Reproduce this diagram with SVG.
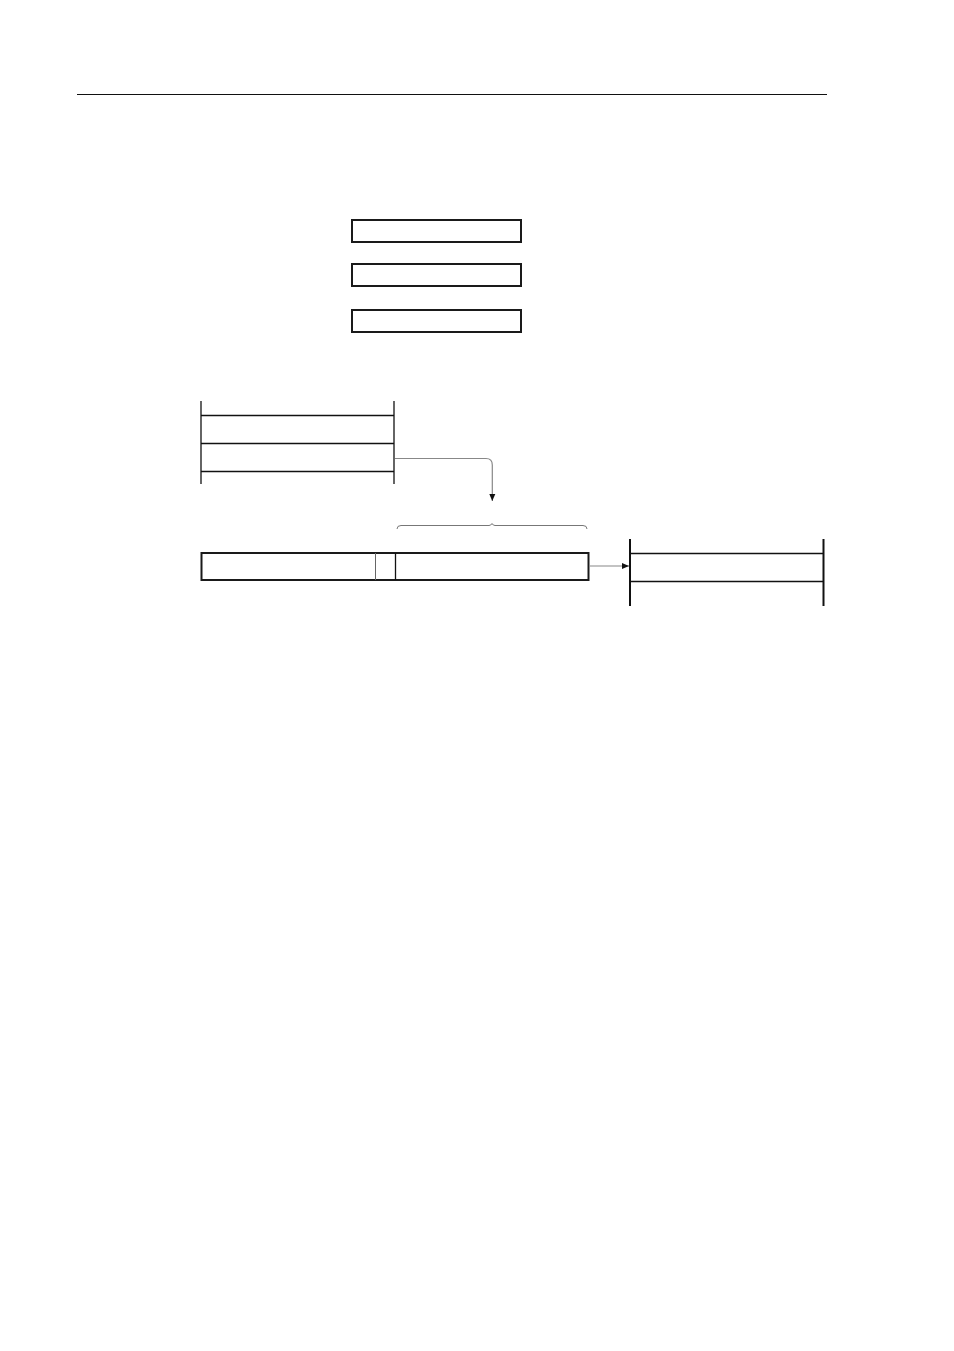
<svg xmlns="http://www.w3.org/2000/svg" width="954" height="1351" viewBox="0 0 954 1351">
<style>
.box{fill:none;stroke:#1a1a1a;stroke-width:2}
.thin{fill:none;stroke:#111;stroke-width:1.3}
.thick{fill:none;stroke:#111;stroke-width:2}
.conn{fill:none;stroke:#888;stroke-width:1.2}
</style>
<defs>
<marker id="arr" markerWidth="8" markerHeight="8" refX="7" refY="4" orient="auto" markerUnits="userSpaceOnUse">
<path d="M0,1 L7,4 L0,7 Z" fill="#111"/>
</marker>
</defs>
<rect width="954" height="1351" fill="#fff"/>
<line x1="77" y1="94.5" x2="827" y2="94.5" stroke="#111" stroke-width="1.2"/>
<g id="reg1"><rect class="box" x="352" y="220" width="169" height="22"/></g>
<g id="reg2"><rect class="box" x="352" y="264" width="169" height="22"/></g>
<g id="reg3"><rect class="box" x="352" y="310" width="169" height="22"/></g>
<g id="memory">
<line class="thin" x1="201" y1="401" x2="201" y2="484"/>
<line class="thin" x1="394" y1="401" x2="394" y2="484"/>
<line class="thin" x1="201" y1="415.5" x2="394" y2="415.5"/>
<line class="thin" x1="201" y1="443.5" x2="394" y2="443.5"/>
<line class="thin" x1="201" y1="471.5" x2="394" y2="471.5"/>
</g>
<g id="bar">
<rect class="box" x="201.5" y="553" width="387" height="27"/>
<line x1="375.5" y1="553" x2="375.5" y2="580" stroke="#666" stroke-width="1"/>
<line x1="395.5" y1="553" x2="395.5" y2="580" stroke="#111" stroke-width="1.3"/>
</g>
<g id="brace">
<path d="M397,529 Q397,525.5 401,525.5 L489,525.5 Q491,525.5 492,523.5 Q493,525.5 495,525.5 L583,525.5 Q587,525.5 587,529" fill="none" stroke="#777" stroke-width="1"/>
</g>
<g id="target">
<line class="thick" x1="630" y1="539" x2="630" y2="606"/>
<line class="thick" x1="823.5" y1="539" x2="823.5" y2="606"/>
<line class="thin" x1="630" y1="553.5" x2="823.5" y2="553.5"/>
<line class="thin" x1="630" y1="581.5" x2="823.5" y2="581.5"/>
</g>
<g id="connectors">
<path class="conn" d="M395,458.5 L486,458.5 Q492.3,458.5 492.3,465 L492.3,501" marker-end="url(#arr)"/>
<path class="conn" d="M589,566 L629,566" marker-end="url(#arr)"/>
</g>
</svg>
